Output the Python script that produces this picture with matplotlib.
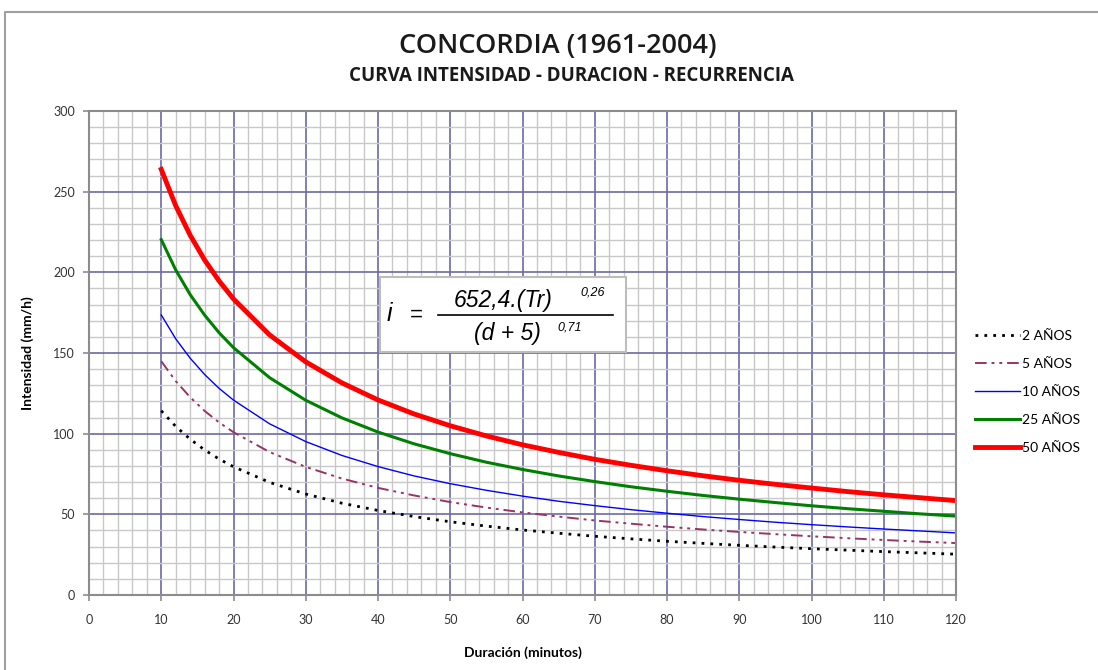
import matplotlib
matplotlib.use("Agg")
import matplotlib.pyplot as plt
from matplotlib.lines import Line2D
from matplotlib.patches import Rectangle
from matplotlib.ticker import MultipleLocator

# duracion (min) e intensidades (mm/h)
duracion = [10, 12, 14, 16, 18, 20, 25, 30, 35, 40, 45, 50, 55, 60, 65, 70,
            75, 80, 85, 90, 95, 100, 105, 110, 115, 120]
i_2 = [114.2, 104.5, 96.6, 89.9, 84.3, 79.5, 69.8, 62.6, 56.9, 52.4, 48.6, 45.4, 42.7,
       40.3, 38.3, 36.4, 34.8, 33.3, 32.0, 30.8, 29.7, 28.7, 27.8, 26.9, 26.1, 25.3]
i_5 = [144.9, 132.6, 122.6, 114.1, 107.0, 100.9, 88.6, 79.4, 72.2, 66.4, 61.7, 57.6, 54.2,
       51.2, 48.6, 46.2, 44.2, 42.3, 40.6, 39.1, 37.7, 36.4, 35.2, 34.1, 33.1, 32.2]
i_10 = [173.6, 158.8, 146.8, 136.7, 128.1, 120.8, 106.1, 95.1, 86.5, 79.6, 73.8, 69.0, 64.9,
        61.3, 58.1, 55.4, 52.9, 50.7, 48.6, 46.8, 45.1, 43.6, 42.2, 40.9, 39.7, 38.5]
i_25 = [220.3, 201.5, 186.2, 173.5, 162.6, 153.3, 134.7, 120.7, 109.8, 101.0, 93.7, 87.6, 82.3,
        77.8, 73.8, 70.3, 67.1, 64.3, 61.7, 59.4, 57.3, 55.3, 53.5, 51.9, 50.3, 48.9]
i_50 = [263.8, 241.3, 223.0, 207.7, 194.7, 183.5, 161.2, 144.5, 131.5, 120.9, 112.2, 104.9, 98.6,
        93.1, 88.4, 84.1, 80.4, 77.0, 73.9, 71.1, 68.6, 66.3, 64.1, 62.1, 60.3, 58.5]

etiquetas = ["2 AÑOS", "5 AÑOS", "10 AÑOS", "25 AÑOS", "50 AÑOS"]

W, H = 1098, 670
fig = plt.figure(figsize=(W / 100, H / 100), dpi=100)
ax = fig.add_axes([89 / W, 1 - 595 / H, (956 - 89) / W, (595 - 111) / H])

ax.plot(duracion, i_2, color="black", ls=(0, (1, 2.2)), lw=2.0, label=etiquetas[0])
ax.plot(duracion, i_5, color="#993366", ls=(0, (6, 2.5, 1.5, 2.5, 1.5, 2.5)), lw=1.4, label=etiquetas[1])
ax.plot(duracion, i_10, color="#0000ff", lw=1.0, label=etiquetas[2])
ax.plot(duracion, i_25, color="#008000", lw=2.2, label=etiquetas[3])
ax.plot(duracion, i_50, color="#ff0000", lw=3.5, label=etiquetas[4])

ax.set_xlim(0, 120)
ax.set_ylim(0, 300)
ax.xaxis.set_major_locator(MultipleLocator(10))
ax.xaxis.set_minor_locator(MultipleLocator(2))
ax.yaxis.set_major_locator(MultipleLocator(50))
ax.yaxis.set_minor_locator(MultipleLocator(10))
ax.grid(which="minor", color="#c8c8c8", lw=1.0)
ax.grid(which="major", color="#6a6aa6", lw=1.2)
ax.set_axisbelow(True)
for s in ax.spines.values():
    s.set_color("#8c8c8c")
    s.set_linewidth(1.5)
ax.tick_params(which="major", length=4, width=1.2, color="#8c8c8c",
               labelsize=9, labelcolor="#333333", pad=6)
ax.tick_params(which="minor", length=0)
ax.tick_params(axis="x", pad=10)

fn = "Lato"
tf = "Open Sans"
for lbl in ax.get_xticklabels() + ax.get_yticklabels():
    lbl.set_fontfamily(fn)

ax.set_xlabel("Duración (minutos)", fontsize=10, fontweight="bold", family=fn, labelpad=14)
ax.set_ylabel("Intensidad (mm/h)", fontsize=10, fontweight="bold", family=fn, labelpad=14)

fig.text(558 / W, 1 - 46 / H, "CONCORDIA (1961-2004)", ha="center", va="center",
         fontsize=19.5, fontweight="semibold", family=tf, color="#1a1a1a")
fig.text(571 / W, 1 - 76 / H, "CURVA INTENSIDAD - DURACION - RECURRENCIA", ha="center",
         va="center", fontsize=13.5, fontweight="bold", family=tf, color="#1a1a1a")

leg = fig.legend(loc="center left", bbox_to_anchor=(962 / W, 1 - 392 / H), frameon=False,
                 handlelength=3.3, labelspacing=1.15, handletextpad=0.15,
                 prop={"family": fn, "size": 10})

# recuadro con la ecuacion
ax.add_patch(Rectangle(((380 - 89) / 867, (595 - 352) / 484), (626 - 380) / 867, 75 / 484,
                       transform=ax.transAxes, facecolor="white", edgecolor="#bdbdbd",
                       lw=1.5, zorder=5))
ef = "Liberation Sans"
def px(x, y):
    return x / W, 1 - y / H
fig.text(*px(389, 314), "i", fontsize=18, style="italic", family=ef, ha="center", va="center", zorder=6)
fig.text(*px(416, 315), "=", fontsize=16, family=ef, ha="center", va="center", zorder=6)
fig.text(*px(503, 300), "652,4.(Tr)", fontsize=16.5, style="italic", family=ef, ha="center", va="center", zorder=6)
fig.text(*px(593, 292), "0,26", fontsize=9, style="italic", family=ef, ha="center", va="center", zorder=6)
fig.text(*px(507, 333), "(d + 5)", fontsize=16.5, style="italic", family=ef, ha="center", va="center", zorder=6)
fig.text(*px(570, 327), "0,71", fontsize=9, style="italic", family=ef, ha="center", va="center", zorder=6)
fig.add_artist(Line2D([438 / W, 613 / W], [1 - 315 / H, 1 - 315 / H], color="black", lw=1.2, zorder=6))

# marco exterior
fig.add_artist(Line2D([5 / W, 5 / W, 1.0], [0.0, 1 - 12 / H, 1 - 12 / H], color="#a0a0a0", lw=1.5))

fig.savefig("out.png", dpi=100)
